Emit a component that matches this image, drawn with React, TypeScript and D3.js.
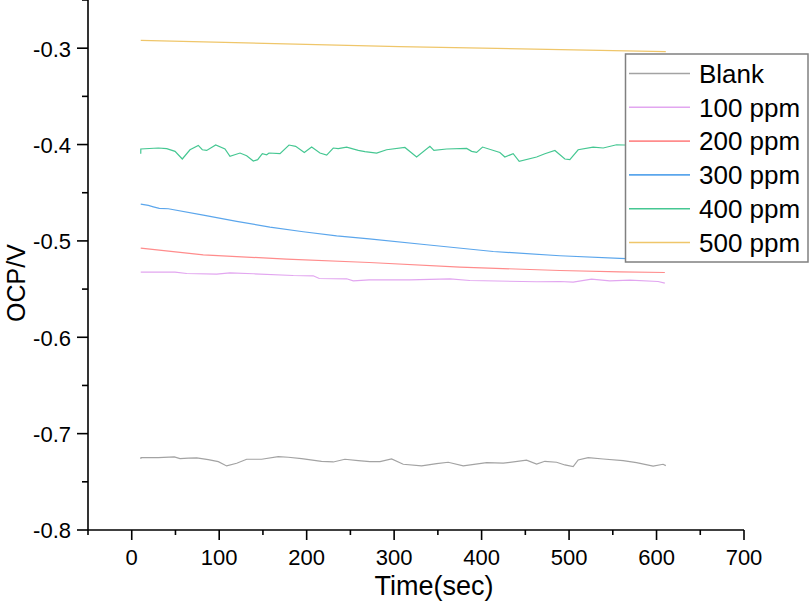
import { useEffect, useRef } from "react";
import * as d3 from "d3";

type Pt = [number, number];

// time (sec), OCP (V)
const blank: Pt[] = [
  [10.3, -0.7263], [10.6, -0.7249], [30.4, -0.7249], [48.7, -0.7242], [55.2, -0.726],
  [64.7, -0.7255], [74.3, -0.7252], [87.5, -0.727], [99, -0.7291], [108.5, -0.7335],
  [120, -0.7307], [131.4, -0.7266], [148.5, -0.7266], [167.5, -0.7239], [179, -0.7245],
  [194.2, -0.726], [217, -0.7287], [230.4, -0.7294], [243.7, -0.7266], [259, -0.728],
  [272.3, -0.7291], [283.8, -0.7291], [297.1, -0.7263], [310.4, -0.7318], [331.4, -0.7335],
  [348.6, -0.7312], [361.8, -0.7297], [379, -0.7335], [405.7, -0.7301], [424.7, -0.7307],
  [451.4, -0.7276], [462.9, -0.7315], [472.3, -0.7287], [485.7, -0.7297], [495.2, -0.7325],
  [504.7, -0.7343], [510.4, -0.7273], [521.8, -0.7249], [539, -0.7263], [561.8, -0.728],
  [577.1, -0.7301], [596.1, -0.7338], [607.5, -0.7318], [610.6, -0.7332],
];

const ppm100: Pt[] = [
  [10.3, -0.5324], [49.5, -0.5324], [62.9, -0.5338], [97.1, -0.5344], [112.3, -0.5331],
  [139, -0.5341], [184.7, -0.5359], [207.5, -0.5362], [214.4, -0.539], [245.7, -0.5393],
  [253.3, -0.5414], [271.5, -0.5404], [318, -0.5404], [363.8, -0.5393], [386.6, -0.5411],
  [462.9, -0.5424], [489.5, -0.5421], [504.7, -0.5427], [525.7, -0.5396], [546.6, -0.5414],
  [569.5, -0.5407], [601.8, -0.5421], [609.5, -0.5438],
];

const ppm200: Pt[] = [
  [10.3, -0.5074], [81.8, -0.5144], [177, -0.5189], [271.5, -0.5224], [375.2, -0.5272],
  [489.5, -0.5307], [558, -0.5321], [609.5, -0.5328],
];

const ppm300: Pt[] = [
  [10.3, -0.4618], [19, -0.4632], [24.7, -0.4646], [31.5, -0.4663], [41.8, -0.4666],
  [81.8, -0.4732], [120, -0.4798], [158, -0.4856], [196.1, -0.4905], [234.3, -0.4947],
  [271.5, -0.4978], [337.1, -0.504], [413.3, -0.511], [489.5, -0.5154], [558, -0.5182],
  [610, -0.52],
];

const ppm400: Pt[] = [
  [10.3, -0.4095], [10.4, -0.4046], [30.4, -0.4036], [40, -0.4043], [49.5, -0.4071],
  [57.8, -0.415], [66.6, -0.4054], [76.1, -0.4009], [80.7, -0.4054], [85.7, -0.4061],
  [96, -0.4005], [106.6, -0.4046], [112.3, -0.4123], [123.8, -0.4088], [131.4, -0.4116],
  [139, -0.4171], [144, -0.4157], [149.3, -0.4095], [154.3, -0.4106], [156.9, -0.4088],
  [169.5, -0.4095], [179.8, -0.4005], [187.4, -0.4019], [197.3, -0.4082], [205.7, -0.4026],
  [215.2, -0.4088], [222.9, -0.4109], [230.4, -0.4036], [236.1, -0.4043], [245.7, -0.4026],
  [259, -0.4061], [266.6, -0.4074], [280, -0.4088], [291.4, -0.4054], [312.3, -0.403],
  [325.7, -0.4129], [340.9, -0.4019], [345.5, -0.4061], [360, -0.4046], [382.9, -0.404],
  [388.6, -0.4071], [394.3, -0.4082], [401.1, -0.4026], [420.9, -0.4082], [426.6, -0.4129],
  [436.1, -0.4095], [443, -0.4175], [462.9, -0.4129], [472.3, -0.4095], [483.8, -0.4061],
  [495.2, -0.415], [500.9, -0.4157], [510.4, -0.4054], [527.5, -0.4026], [539, -0.4036],
  [554.3, -0.4002], [580, -0.401], [610, -0.402],
];

const ppm500: Pt[] = [
  [10.3, -0.2919], [306, -0.2984], [610.6, -0.3036],
];

const seriesNames = ["Blank", "100 ppm", "200 ppm", "300 ppm", "400 ppm", "500 ppm"];
const seriesData = [blank, ppm100, ppm200, ppm300, ppm400, ppm500];
const seriesColors = ["#a3a3a3", "#e2a6f0", "#ff8c8c", "#5ba6ec", "#45c792", "#efc66a"];

const xMajor = [0, 100, 200, 300, 400, 500, 600, 700];
const xMinor = [-50, 50, 150, 250, 350, 450, 550, 650];
const yMajor = [-0.8, -0.7, -0.6, -0.5, -0.4, -0.3];
const yMinor = [-0.75, -0.65, -0.55, -0.45, -0.35, -0.25];

const FONT = "'Liberation Sans', Arial, sans-serif";

const drawChart = (el: SVGSVGElement) => {
  const svg = d3.select(el);
  svg.selectAll("*").remove();

  const x = d3.scaleLinear().domain([-50, 700]).range([88, 744]);
  const y = d3.scaleLinear().domain([-0.8, -0.25]).range([530, 0]);

  const line = d3
    .line<Pt>()
    .x((d) => x(d[0]))
    .y((d) => y(d[1]));

  // data lines
  svg
    .append("g")
    .selectAll("path")
    .data(seriesData)
    .enter()
    .append("path")
    .attr("d", (d) => line(d))
    .attr("fill", "none")
    .attr("stroke", (_d, i) => seriesColors[i])
    .attr("stroke-width", 1.2);

  const axes = svg.append("g").attr("stroke", "#000").attr("stroke-width", 1.6);

  // x axis
  axes.append("line").attr("x1", 88).attr("x2", x(700)).attr("y1", 530).attr("y2", 530);
  xMajor.forEach((t) =>
    axes.append("line").attr("x1", x(t)).attr("x2", x(t)).attr("y1", 530).attr("y2", 540)
  );
  xMinor.forEach((t) =>
    axes.append("line").attr("x1", x(t)).attr("x2", x(t)).attr("y1", 530).attr("y2", 535)
  );

  // y axis
  axes.append("line").attr("x1", 88).attr("x2", 88).attr("y1", 530).attr("y2", 0);
  yMajor.forEach((v) =>
    axes.append("line").attr("x1", 77).attr("x2", 88).attr("y1", y(v)).attr("y2", y(v))
  );
  yMinor.forEach((v) =>
    axes.append("line").attr("x1", 82).attr("x2", 88).attr("y1", y(v)).attr("y2", y(v))
  );

  const labels = svg.append("g").attr("font-family", FONT).attr("fill", "#000");

  xMajor.forEach((t) =>
    labels
      .append("text")
      .attr("x", x(t))
      .attr("y", 565)
      .attr("text-anchor", "middle")
      .attr("font-size", 22)
      .text(String(t))
  );

  yMajor.forEach((v) =>
    labels
      .append("text")
      .attr("x", 71)
      .attr("y", y(v))
      .attr("dy", "0.38em")
      .attr("text-anchor", "end")
      .attr("font-size", 22)
      .text(v.toFixed(1))
  );

  labels
    .append("text")
    .attr("x", 434)
    .attr("y", 595)
    .attr("text-anchor", "middle")
    .attr("font-size", 27)
    .text("Time(sec)");

  labels
    .append("text")
    .attr("transform", "translate(25,283) rotate(-90)")
    .attr("text-anchor", "middle")
    .attr("font-size", 25)
    .text("OCP/V");

  // legend
  const legend = svg.append("g");
  legend
    .append("rect")
    .attr("x", 625.5)
    .attr("y", 54)
    .attr("width", 182.5)
    .attr("height", 208)
    .attr("fill", "#fff")
    .attr("stroke", "#808080")
    .attr("stroke-width", 1.5);

  seriesNames.forEach((name, i) => {
    const ry = 73.5 + i * 33.8;
    legend
      .append("line")
      .attr("x1", 629)
      .attr("x2", 690)
      .attr("y1", ry)
      .attr("y2", ry)
      .attr("stroke", seriesColors[i])
      .attr("stroke-width", 1.6);
    legend
      .append("text")
      .attr("x", 699)
      .attr("y", ry)
      .attr("dy", "0.36em")
      .attr("font-family", FONT)
      .attr("font-size", 26)
      .text(name);
  });
};

export default function App() {
  const ref = useRef<SVGSVGElement>(null);
  useEffect(() => {
    if (ref.current) drawChart(ref.current);
  }, []);
  return (
    <svg
      ref={ref}
      width={809}
      height={602}
      style={{ position: "absolute", left: 0, top: 0, background: "#fff" }}
    />
  );
}
